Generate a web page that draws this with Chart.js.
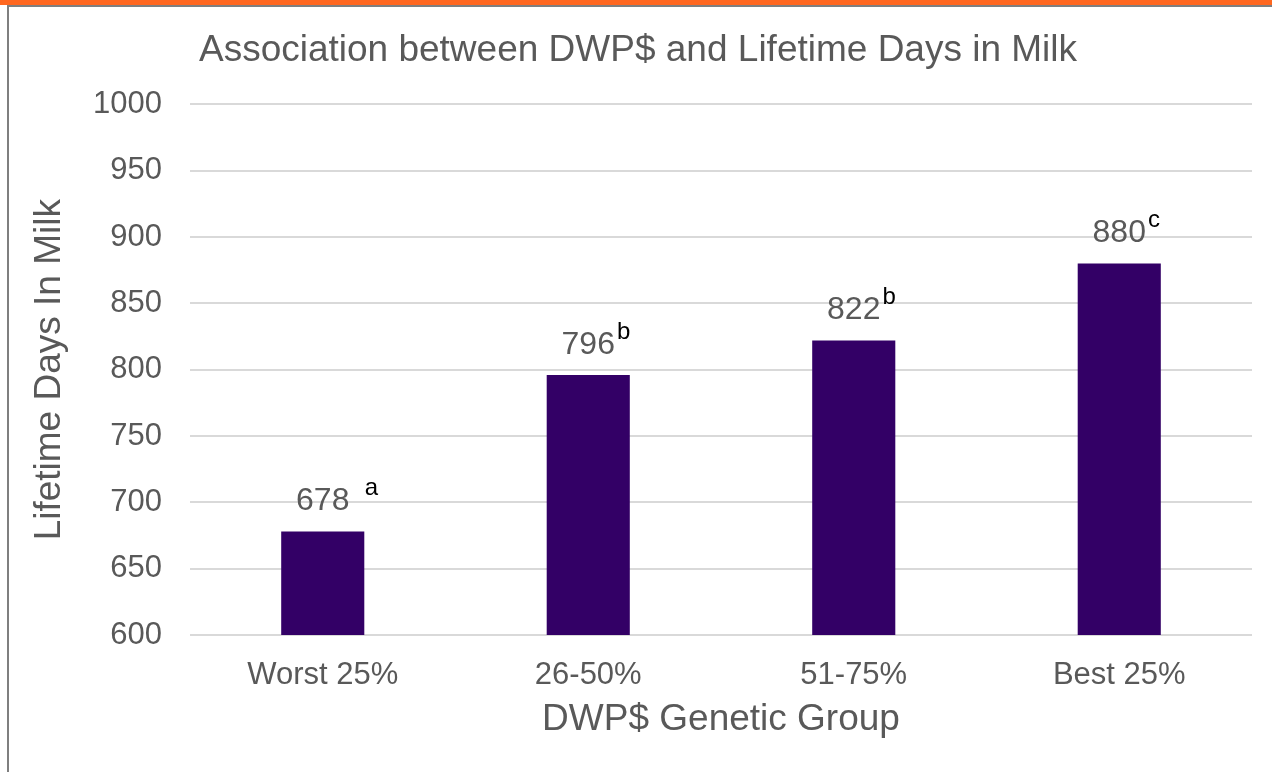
<!DOCTYPE html>
<html>
<head>
<meta charset="utf-8">
<script src="https://cdn.jsdelivr.net/npm/chart.js@4"></script>
<style>
    html, body { margin: 0; padding: 0; background: #ffffff; }
    #page { position: relative; width: 1272px; height: 772px; overflow: hidden; }
    #topBand { position: absolute; left: 0; top: 0; width: 1272px; height: 5px; background: #ff671f; }
    #frame { position: absolute; left: 7px; top: 5px; width: 1265px; height: 767px;
             border-left: 2px solid #7f7f7f; border-top: 2px solid #7f7f7f; box-sizing: border-box; }
    #chartBox { position: absolute; left: 0; top: 0; width: 1272px; height: 772px; }
</style>
</head>
<body>
<div id="page">
    <div id="chartBox"><canvas id="dwpChart"></canvas></div>
    <div id="topBand"></div>
    <div id="frame"></div>
</div>
<script>
// values
const groups = ['Worst 25%', '26-50%', '51-75%', 'Best 25%'];
const lifetimeDIM = [678, 796, 822, 880];
const sigLetters = ['  a', 'b', 'b', 'c'];
const yTicks = [600, 650, 700, 750, 800, 850, 900, 950, 1000];

const FONT = '"Liberation Sans", Arial, sans-serif';
const GREY_TEXT = '#595959';

// value labels with the superscript significance letters
const valueLabels = {
    id: 'valueLabels',
    afterDatasetsDraw(chart) {
        const ctx = chart.ctx;
        const meta = chart.getDatasetMeta(0);
        ctx.save();
        meta.data.forEach((bar, i) => {
            const txt = String(lifetimeDIM[i]);
            const y = bar.y - 30;
            ctx.font = '32px ' + FONT;
            ctx.fillStyle = GREY_TEXT;
            ctx.textAlign = 'center';
            ctx.textBaseline = 'middle';
            ctx.fillText(txt, bar.x, y);
            const w = ctx.measureText(txt).width;
            ctx.font = '24px ' + FONT;
            ctx.fillStyle = '#000000';
            ctx.textAlign = 'left';
            ctx.fillText(sigLetters[i], bar.x + w / 2 + 2, y - 13);
        });
        ctx.restore();
    }
};

new Chart(document.getElementById('dwpChart'), {
    type: 'bar',
    data: {
        labels: groups,
        datasets: [{
            label: 'Lifetime Days In Milk',
            data: lifetimeDIM,
            backgroundColor: '#330066',
            categoryPercentage: 1,
            barPercentage: 0.313
        }]
    },
    options: {
        responsive: true,
        maintainAspectRatio: false,
        animation: false,
        layout: { padding: { left: 24, right: 20, top: 0, bottom: 0 } },
        plugins: {
            legend: { display: false },
            tooltip: { enabled: false },
            title: {
                display: true,
                text: 'Association between DWP$ and Lifetime Days in Milk',
                color: GREY_TEXT,
                font: { family: FONT, size: 37, weight: 'normal' },
                padding: { top: 29, bottom: 31 }
            }
        },
        scales: {
            x: {
                grid: { display: false },
                border: { display: false },
                ticks: {
                    color: GREY_TEXT,
                    font: { family: FONT, size: 31 },
                    padding: 14
                },
                title: {
                    display: true,
                    text: 'DWP$ Genetic Group',
                    color: GREY_TEXT,
                    font: { family: FONT, size: 37 },
                    padding: { top: 0, bottom: 30 }
                },
                afterFit(scale) { scale.height = 137; }
            },
            y: {
                min: 600,
                max: 1000,
                afterBuildTicks(scale) { scale.ticks = yTicks.map(v => ({ value: v })); },
                grid: { color: '#d9d9d9', lineWidth: 2, drawTicks: false },
                border: { display: false },
                ticks: {
                    color: GREY_TEXT,
                    font: { family: FONT, size: 31 },
                    padding: 28,
                    callback: (value) => String(value)
                },
                title: {
                    display: true,
                    text: 'Lifetime Days In Milk',
                    color: GREY_TEXT,
                    font: { family: FONT, size: 37 },
                    padding: { top: 4, bottom: 4 }
                },
                afterFit(scale) { scale.width = 166; }
            }
        }
    },
    plugins: [valueLabels]
});
</script>
</body>
</html>
